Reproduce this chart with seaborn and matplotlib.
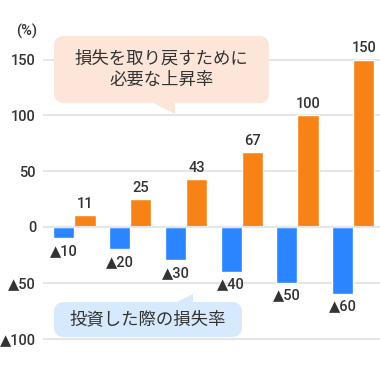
import matplotlib.pyplot as plt
import pandas as pd
import seaborn as sns
from matplotlib.patches import FancyBboxPatch, Polygon
from matplotlib.transforms import IdentityTransform

# 損失率と、取り戻すのに必要な上昇率 (%)
groups = ["g1", "g2", "g3", "g4", "g5", "g6"]
loss = [-10, -20, -30, -40, -50, -60]
recovery = [11, 25, 43, 67, 100, 150]
loss_labels = ["▲10", "▲20", "▲30", "▲40", "▲50", "▲60"]
recovery_labels = ["11", "25", "43", "67", "100", "150"]
y_ticks = [-100, -50, 0, 50, 100, 150]
y_tick_labels = ["▲100", "▲50", "0", "50", "100", "150"]

W, H = 380, 365
BLUE = "#2a85ff"
ORANGE = "#f78317"
GRID = "#e6e6e6"
TEXT = "#333333"

sns.set_style("white")
plt.rcParams["font.family"] = ["Roboto", "DejaVu Sans", "Noto Sans CJK JP"]
plt.rcParams["font.weight"] = 500

df = pd.DataFrame({
    "group": groups * 2,
    "kind": ["loss"] * len(loss) + ["recovery"] * len(recovery),
    "value": loss + recovery,
})

fig = plt.figure(figsize=(W / 100, H / 100), dpi=100)
ax = fig.add_axes([43 / W, 0, 1 - 43 / W, 1])

sns.barplot(data=df, x="group", y="value", hue="kind", hue_order=["loss", "recovery"],
            palette=[BLUE, ORANGE], width=0.76, saturation=1, legend=False, ax=ax)

ax.set_xlim(-0.565, 5.48)
ax.set_ylim(-123.7, 203.4)
ax.set_yticks(y_ticks)
ax.set_yticklabels(y_tick_labels)
ax.set_xticks([])
ax.set_xlabel("")
ax.set_ylabel("")
ax.grid(axis="y", color=GRID, lw=1.5)
ax.set_axisbelow(True)
ax.tick_params(axis="y", length=0, pad=5, labelsize=10.5, labelcolor=TEXT)
for s in ax.spines.values():
    s.set_visible(False)
ax.axhline(0, color=GRID, lw=1.5, zorder=3)

ax.bar_label(ax.containers[0], labels=loss_labels, padding=4, fontsize=10.5, color=TEXT)
ax.bar_label(ax.containers[1], labels=recovery_labels, padding=3, fontsize=10.5, color=TEXT)

fig.text(27 / W, 1 - 31 / H, "(%)", ha="center", va="center", fontsize=10.5, color=TEXT)


def callout(x0, y0, x1, y1, tail, color, text):
    # 座標は上からのピクセル
    ident = IdentityTransform()
    box = FancyBboxPatch((x0, H - y1), x1 - x0, y1 - y0,
                         boxstyle="round,pad=0,rounding_size=10",
                         fc=color, ec="none", transform=ident, zorder=2)
    fig.add_artist(box)
    tri = Polygon([(x, H - y) for x, y in tail], closed=True, fc=color, ec="none",
                  transform=ident, zorder=2)
    fig.add_artist(tri)
    fig.text((x0 + x1) / 2 / W, 1 - (y0 + y1) / 2 / H, text, ha="center", va="center",
             fontsize=12.5, color=TEXT, family=["Noto Sans CJK JP"], weight="normal",
             linespacing=1.25, zorder=4)


callout(54, 36, 269, 103, [(152, 102), (175, 102), (175, 114)], "#fde5d9",
        "損失を取り戻すために\n必要な上昇率")
callout(54, 302, 242, 337, [(175, 303), (193, 303), (193, 294)], "#d7e9fc",
        "投資した際の損失率")

fig.savefig("out.png", dpi=100)
